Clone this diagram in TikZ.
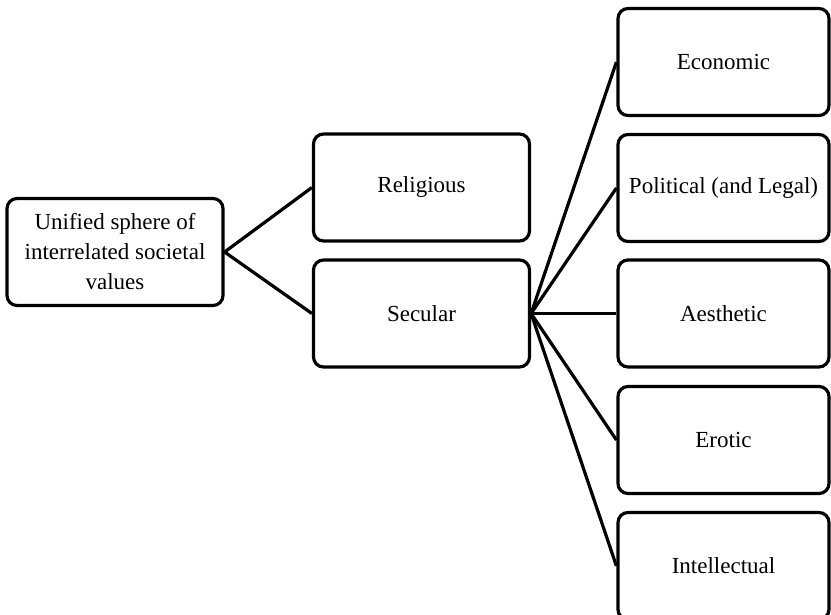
\documentclass[tikz,border=0pt]{standalone}
\usepackage{fontspec}
\setmainfont{Liberation Serif}
\begin{document}
\begin{tikzpicture}[x=1pt,y=-1pt,
  box/.style={draw=black,line width=3.2pt,rounded corners=10pt,fill=white,align=center,
    inner sep=0pt,font=\fontsize{23}{30}\selectfont},
  lbox/.style={box,minimum width=216pt,minimum height=107pt},
  rbox/.style={box,minimum width=211pt,minimum height=107pt},
  conn/.style={line width=3.2pt}]
\useasboundingbox (0,0) rectangle (831,615);
\node[lbox] (u) at (115,252) {Unified sphere of\\interrelated societal\\values};
\node[lbox] (rel) at (421.5,187.5) {Religious};
\node[lbox] (sec) at (421.5,313.5) {Secular};
\node[rbox] (eco) at (723.5,62) {Economic};
\node[rbox] (pol) at (723.5,188) {Political (and Legal)};
\node[rbox] (aes) at (723.5,313.5) {Aesthetic};
\node[rbox] (ero) at (723.5,440) {Erotic};
\node[rbox] (int) at (723.5,566) {Intellectual};
\draw[conn] (u.east) -- (rel.west);
\draw[conn] (u.east) -- (sec.west);
\foreach \t in {eco,pol,aes,ero,int} \draw[conn] (sec.east) -- (\t.west);
\end{tikzpicture}
\end{document}
